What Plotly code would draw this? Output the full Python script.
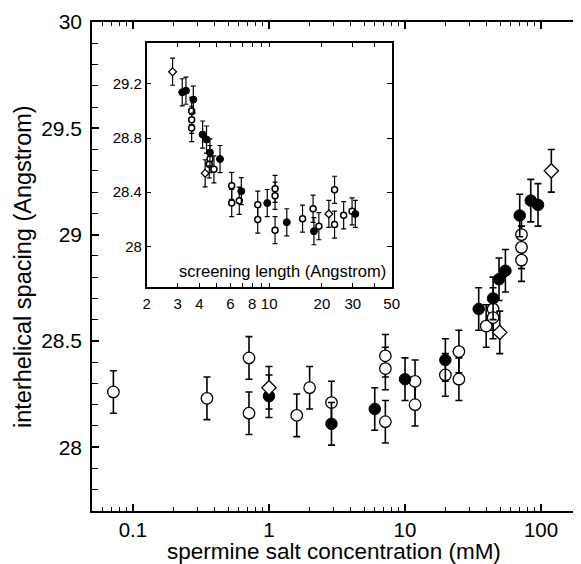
import plotly.graph_objects as go

# ---------------- main plot data (spermine salt mM, spacing Å) ----------------
open_x = [0.0718, 0.35, 0.713, 0.713, 1.6, 1.99, 2.88, 7.17, 7.17, 7.17, 11.85, 11.85,
          19.8, 24.9, 24.9, 39.5, 44.4, 44.4, 71.8, 71.8, 71.8]
open_y = [28.26, 28.23, 28.42, 28.16, 28.15, 28.28, 28.21, 28.43, 28.37, 28.12, 28.31, 28.20,
          28.34, 28.45, 28.32, 28.57, 28.65, 28.61, 29.00, 28.94, 28.88]

filled_x = [1.0, 2.88, 5.99, 10.0, 19.8, 34.8, 44.4, 49.1, 54.7, 69.7, 84.0, 95.0]
filled_y = [28.24, 28.11, 28.18, 28.32, 28.41, 28.65, 28.70, 28.79, 28.83, 29.09, 29.16, 29.14]

diam_x = [1.0, 49.7, 119.0]
diam_y = [28.28, 28.54, 29.30]

err = 0.1

# ---------------- inset data (screening length Å, spacing Å) ----------------
in_open_x = [3.61, 3.61, 3.61, 4.59, 4.55, 4.84, 6.11, 6.11, 6.75, 8.6, 8.6, 10.8, 10.8, 10.8,
             15.5, 17.8, 19.2, 23.6, 23.6, 26.6, 29.7]
in_open_y = [29.00, 28.935, 28.874, 28.645, 28.606, 28.569, 28.447, 28.32, 28.337, 28.308, 28.198,
             28.425, 28.374, 28.12, 28.205, 28.278, 28.149, 28.418, 28.161, 28.23, 28.259]

in_filled_x = [3.19, 3.35, 3.69, 4.17, 4.39, 4.59, 5.24, 6.93, 9.75, 12.6, 18.0, 31.0]
in_filled_y = [29.138, 29.15, 29.084, 28.826, 28.789, 28.694, 28.645, 28.408, 28.32, 28.178,
               28.112, 28.24]

in_diam_x = [2.81, 4.31, 21.9]
in_diam_y = [29.29, 28.54, 28.24]

# tick definitions
main_x_ticks = [0.1, 1, 10, 100]
main_x_ticktext = ["0.1", "1", "10", "100"]
main_x_minor = [0.06, 0.07, 0.08, 0.09] + [k / 10 for k in range(2, 10)] + list(range(2, 10)) + \
               [k * 10 for k in range(2, 10)] + [200]
inset_x_ticks = [2, 3, 4, 5, 6, 7, 8, 9, 10, 20, 30, 40, 50]
inset_x_ticktext = ["2", "3", "4", "", "6", "", "8", "", "10", "20", "30", "", "50"]

FONT = "Liberation Sans, Arial, sans-serif"

# page offset (body margin) and plot-area geometry in target pixels
OFF = 8
W, H = 581, 564
AX_L, AX_R, AX_T, AX_B = 92, 582, 22, 511          # target pixel positions of plot frame
L, T = AX_L - OFF, AX_T - OFF
R = W - (AX_R - OFF)
B = H - (AX_B - OFF)


def px_x(p):
    return (p - AX_L) / (AX_R - AX_L)


def px_y(p):
    return (AX_B - p) / (AX_B - AX_T)


def eb(width, thick):
    return dict(type="constant", value=err, color="black", thickness=thick, width=width)


fig = go.Figure()

# main traces
fig.add_trace(go.Scatter(x=open_x, y=open_y, mode="markers", error_y=eb(3.5, 1.6),
                         marker=dict(symbol="circle", size=11.5, color="white",
                                     line=dict(color="black", width=1.3)),
                         xaxis="x", yaxis="y", showlegend=False))
fig.add_trace(go.Scatter(x=filled_x, y=filled_y, mode="markers", error_y=eb(3.5, 1.6),
                         marker=dict(symbol="circle", size=11.5, color="black",
                                     line=dict(color="black", width=1)),
                         xaxis="x", yaxis="y", showlegend=False))
fig.add_trace(go.Scatter(x=diam_x, y=diam_y, mode="markers", error_y=eb(3.5, 1.6),
                         marker=dict(symbol="diamond", size=11, color="white",
                                     line=dict(color="black", width=1.3)),
                         xaxis="x", yaxis="y", showlegend=False))

# inset traces
fig.add_trace(go.Scatter(x=in_open_x, y=in_open_y, mode="markers", error_y=eb(2.5, 1.2),
                         marker=dict(symbol="circle", size=6, color="white",
                                     line=dict(color="black", width=1.5)),
                         xaxis="x2", yaxis="y2", showlegend=False))
fig.add_trace(go.Scatter(x=in_filled_x, y=in_filled_y, mode="markers", error_y=eb(2.5, 1.2),
                         marker=dict(symbol="circle", size=7, color="black",
                                     line=dict(color="black", width=1)),
                         xaxis="x2", yaxis="y2", showlegend=False))
fig.add_trace(go.Scatter(x=in_diam_x, y=in_diam_y, mode="markers", error_y=eb(2.5, 1.2),
                         marker=dict(symbol="diamond", size=6, color="white",
                                     line=dict(color="black", width=1.3)),
                         xaxis="x2", yaxis="y2", showlegend=False))

axis_common = dict(showline=True, linecolor="black", mirror="ticks", ticks="inside",
                   tickcolor="black", showgrid=False, zeroline=False, automargin=False)

fig.update_layout(
    width=W, height=H,
    margin=dict(l=L, r=R, t=T, b=B, autoexpand=False),
    paper_bgcolor="white", plot_bgcolor="white",
    font=dict(family=FONT, color="black"),
    xaxis=dict(**axis_common, type="log", range=[-1.30103, 2.30103],
               linewidth=1.6, ticklen=7, tickwidth=1.5,
               tickvals=main_x_ticks, ticktext=main_x_ticktext,
               tickfont=dict(size=20.5, family=FONT), ticklabelstandoff=0,
               minor=dict(ticks="inside", tickvals=main_x_minor, ticklen=4,
                          tickcolor="black", tickwidth=1.2, showgrid=False),
               domain=[0, 1], anchor="y"),
    yaxis=dict(**axis_common, range=[27.7, 30], linewidth=1.6,
               tick0=28, dtick=0.5, ticklen=7, tickwidth=1.5,
               tickfont=dict(size=21, family=FONT), ticklabelstandoff=4,
               minor=dict(ticks="inside", dtick=0.1, ticklen=6, tickcolor="black",
                          tickwidth=1.2, showgrid=False),
               domain=[0, 1], anchor="x"),
    xaxis2=dict(**axis_common, type="log", range=[0.30103, 1.69897], linewidth=1.5,
                ticklen=4, tickwidth=1.2,
                tickvals=inset_x_ticks, ticktext=inset_x_ticktext,
                tickfont=dict(size=15, family=FONT), ticklabelstandoff=2,
                domain=[px_x(146.7), px_x(391.7)], anchor="y2"),
    yaxis2=dict(**axis_common, range=[27.7, 29.5], linewidth=1.5,
                tick0=28, dtick=0.4, ticklen=5, tickwidth=1.2,
                tickfont=dict(size=15, family=FONT),
                domain=[px_y(287), px_y(43.3)], anchor="x2"),
    shapes=[dict(type="rect", xref="x2 domain", yref="y2 domain", x0=0, x1=1, y0=0, y1=1,
                 fillcolor="white", line=dict(width=0), layer="below")],
    annotations=[
        dict(text="screening length (Angstrom)", xref="x2 domain", yref="y2 domain",
             x=0.985, y=0.02, xanchor="right", yanchor="bottom", showarrow=False,
             font=dict(size=16.5, family=FONT)),
        dict(text="spermine salt concentration (mM)", xref="paper", yref="paper",
             x=px_x(334), y=px_y(551), xanchor="center", yanchor="middle",
             showarrow=False, borderpad=0, font=dict(size=22.5, family=FONT)),
        dict(text="interhelical spacing (Angstrom)", xref="paper", yref="paper",
             x=px_x(23), y=px_y(267), xanchor="center", yanchor="middle",
             textangle=-90, showarrow=False, font=dict(size=23.5, family=FONT)),
    ],
)

fig.write_html("out.html")
